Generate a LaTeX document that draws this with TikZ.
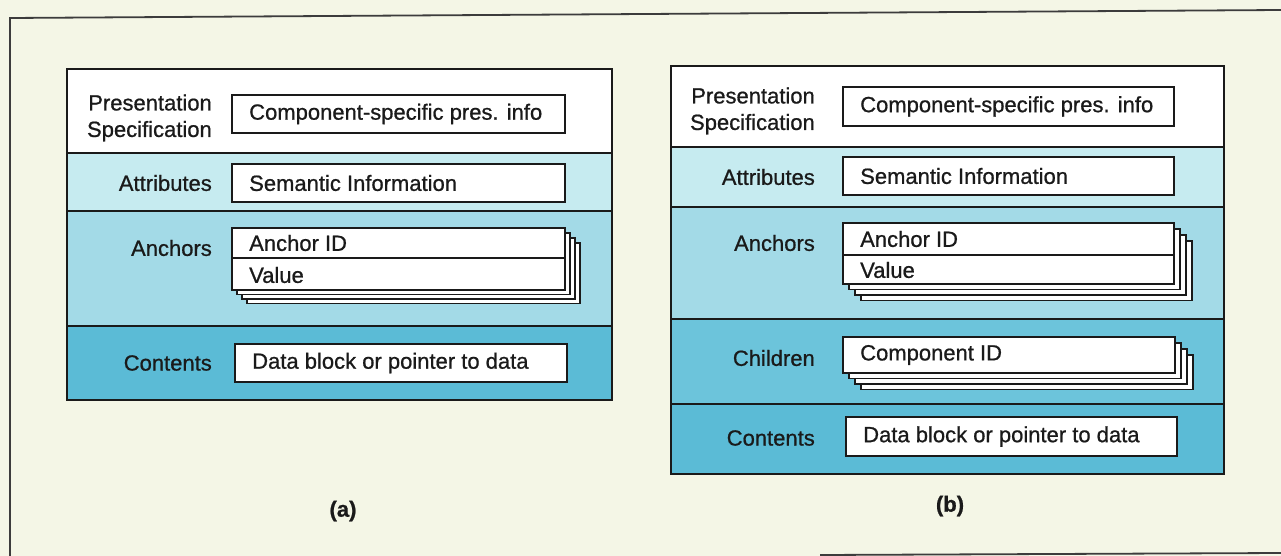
\documentclass[tikz,border=0pt]{standalone}
\usepackage{fontspec}
\setmainfont{Liberation Sans}[FakeBold=0.8]
\definecolor{bgc}{HTML}{F4F6E6}
\definecolor{attrc}{HTML}{C6EBF0}
\definecolor{anchc}{HTML}{A3DAE7}
\definecolor{childc}{HTML}{6CC4DB}
\definecolor{contc}{HTML}{5BBBD6}
\definecolor{inkc}{HTML}{1A1A1A}
\tikzset{
  panel/.style={draw=inkc, line width=2.4pt},
  divider/.style={draw=inkc, line width=2pt},
  field/.style={draw=inkc, fill=white, line width=1.8pt},
  layer/.style={draw=inkc, fill=white, line width=1.4pt},
  lbl/.style={anchor=east, inner sep=0pt, text=inkc, font=\fontsize{22}{26.5}\selectfont, align=right},
  ftxt/.style={anchor=west, inner sep=0pt, text=inkc, font=\fontsize{22}{26.5}\selectfont},
  captxt/.style={inner sep=0pt, text=inkc, font=\fontsize{22}{26.5}\selectfont\bfseries},
  frameline/.style={draw=inkc!85, line width=1.8pt}
}
\begin{document}
\begin{tikzpicture}[x=1pt,y=-1pt]
\fill[bgc] (0,0) rectangle (1281,556);
\useasboundingbox (0,0) rectangle (1281,556);
% outer frame of the figure
\draw[frameline] (10,556) -- (10,18) -- (1281,10);
\draw[frameline] (820,555) -- (1281,553);

% ================= panel (a) =================
\fill[white]  (67,69)  rectangle (612,153);
\fill[attrc]  (67,153) rectangle (612,211);
\fill[anchc]  (67,211) rectangle (612,326);
\fill[contc]  (67,326) rectangle (612,400);
\draw[divider] (67,153) -- (612,153);
\draw[divider] (67,211) -- (612,211);
\draw[divider] (67,326) -- (612,326);
\draw[panel] (67,69) rectangle (612,400);

\node[lbl] (aps) at (212,118) {Presentation\\Specification};
\node[lbl] (aat) at (212,183) {Attributes};
\node[lbl] (aan) at (212,248) {Anchors};
\node[lbl] (aco) at (212,363) {Contents};

\draw[field] (232,95) rectangle (565,133);
\node[ftxt] (acs) at (249,114) {Component-specific pres. info};
\draw[field] (232,164) rectangle (565,202);
\node[ftxt] (asi) at (249,183) {Semantic Information};
% anchor stack
\foreach \k in {3,2,1}{
  \draw[layer] ({232+5*\k},{228+5*\k}) rectangle ({565+5*\k},{290+4.5*\k});
}
\draw[field] (232,228) rectangle (565,290);
\draw[field] (232,258) -- (565,258);
\node[ftxt] (aid) at (249,243) {Anchor ID};
\node[ftxt] (aval) at (249,275) {Value};
\draw[field] (235,344) rectangle (567,382);
\node[ftxt] (adb) at (252,363) {Data block or pointer to data};
\node[captxt] (acap) at (343,511) {(a)};

% ================= panel (b) =================
\fill[white]  (671,66)  rectangle (1224,147);
\fill[attrc]  (671,147) rectangle (1224,207);
\fill[anchc]  (671,207) rectangle (1224,319);
\fill[childc] (671,319) rectangle (1224,404);
\fill[contc]  (671,404) rectangle (1224,474);
\draw[divider] (671,147) -- (1224,147);
\draw[divider] (671,207) -- (1224,207);
\draw[divider] (671,319) -- (1224,319);
\draw[divider] (671,404) -- (1224,404);
\draw[panel] (671,66) rectangle (1224,474);

\node[lbl] (bps) at (815,111) {Presentation\\Specification};
\node[lbl] (bat) at (815,177) {Attributes};
\node[lbl] (ban) at (815,243) {Anchors};
\node[lbl] (bch) at (815,358) {Children};
\node[lbl] (bco) at (815,438) {Contents};

\draw[field] (843,87) rectangle (1174,126);
\node[ftxt] (bcs) at (860,106.5) {Component-specific pres. info};
\draw[field] (843,157) rectangle (1174,195);
\node[ftxt] (bsi) at (860,176) {Semantic Information};
% anchor stack
\foreach \k in {3,2,1}{
  \draw[layer] ({843+6*\k},{223+6*\k}) rectangle ({1174+6*\k},{284+5.5*\k});
}
\draw[field] (843,223) rectangle (1174,284);
\draw[field] (843,255) -- (1174,255);
\node[ftxt] (bid) at (860,239) {Anchor ID};
\node[ftxt] (bval) at (860,270) {Value};
% children stack
\foreach \k in {3,2,1}{
  \draw[layer] ({843+6*\k},{337+6*\k}) rectangle ({1175+6*\k},{373+5.5*\k});
}
\draw[field] (843,337) rectangle (1175,373);
\node[ftxt] (bcid) at (860,355) {Component ID};
\draw[field] (846,417) rectangle (1177,456);
\node[ftxt] (bdb) at (863,436.5) {Data block or pointer to data};
\node[captxt] (bcap) at (950,506) {(b)};
\end{tikzpicture}
\end{document}
